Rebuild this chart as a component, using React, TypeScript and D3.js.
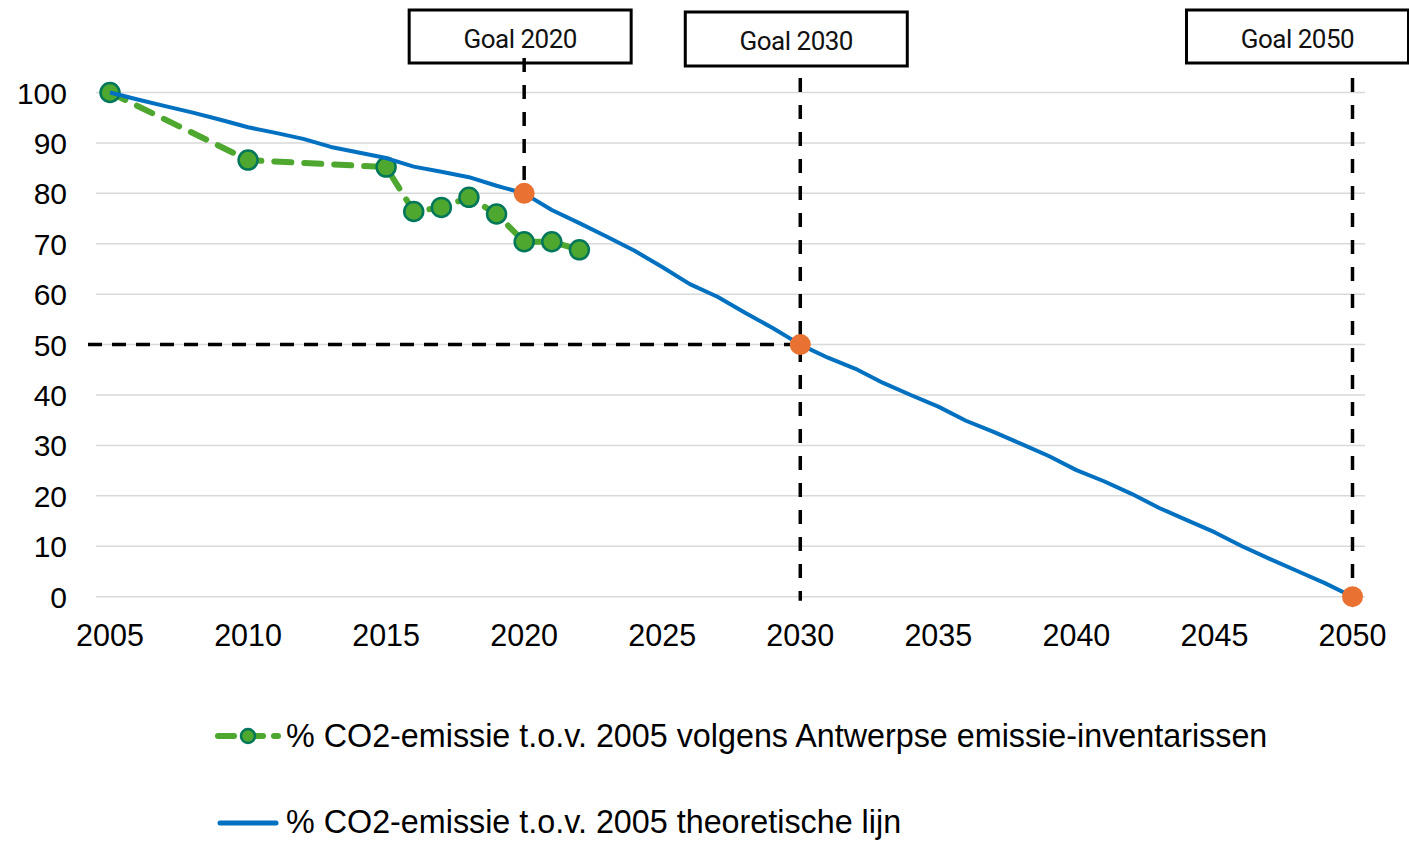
import * as d3 from 'd3';

const W = 1409;
const H = 841;

const TICK_YEARS = [2005, 2010, 2015, 2020, 2025, 2030, 2035, 2040, 2045, 2050];
const TICK_VALUES = [0, 10, 20, 30, 40, 50, 60, 70, 80, 90, 100];

// measured inventory points
const INV_YEARS = [2005, 2010, 2015, 2016, 2017, 2018, 2019, 2020, 2021, 2022];
const INV_VALUES = [100, 86.6, 85.2, 76.4, 77.2, 79.2, 75.9, 70.4, 70.4, 68.8];

// theoretical path 2005..2050
const THEO_YEARS = d3.range(2005, 2051);
const THEO_VALUES = [
  100, 98.6, 97.3, 96, 94.6, 93.1, 92, 90.8, 89.2, 88.1,
  87, 85.3, 84.3, 83.2, 81.5, 80, 76.7, 74.1, 71.4, 68.6,
  65.4, 62, 59.5, 56.3, 53.3, 50, 47.4, 45.2, 42.4, 40,
  37.7, 34.9, 32.7, 30.3, 27.9, 25.1, 22.9, 20.4, 17.6, 15.2,
  12.8, 10, 7.5, 5.1, 2.7, 0,
];

const GOAL_YEARS = [2020, 2030, 2050];
const GOAL_VALUES = [80, 50, 0];
const GOAL_LABELS = ['Goal 2020', 'Goal 2030', 'Goal 2050'];

const LEGEND = [
  '% CO2-emissie t.o.v. 2005 volgens Antwerpse emissie-inventarissen',
  '% CO2-emissie t.o.v. 2005 theoretische lijn',
];

const GREEN = '#4EA72E';
const GREEN_EDGE = '#00775A';
const BLUE = '#0070C0';
const ORANGE = '#E97132';
const ARIAL = '"Liberation Sans", Arial, sans-serif';

export default function App() {
  const x = d3.scaleLinear().domain([2005, 2050]).range([110, 1352.5]);
  const y = d3.scaleLinear().domain([0, 100]).range([596.7, 92.5]);

  const line = d3.line<[number, number]>().x(d => x(d[0])).y(d => y(d[1]));
  const invPts = INV_YEARS.map((yr, i) => [yr, INV_VALUES[i]] as [number, number]);
  const theoPts = THEO_YEARS.map((yr, i) => [yr, THEO_VALUES[i]] as [number, number]);

  // goal label boxes, centred near their year
  const boxes = [
    { cx: x(2020) - 4, top: 10, h: 53 },
    { cx: x(2030) - 4, top: 12, h: 54 },
    { cx: x(2050) - 55, top: 10, h: 53 },
  ];

  return (
    <svg width={W} height={H} style={{ position: 'absolute', left: 0, top: 0, background: '#fff' }}>
      {/* grid */}
      {TICK_VALUES.map(v => (
        <line key={v} x1={96} x2={1365} y1={y(v)} y2={y(v)} stroke="#D9D9D9" strokeWidth={1.5} />
      ))}
      {TICK_VALUES.map(v => (
        <text key={'t' + v} x={67} y={y(v) + 11} textAnchor="end" fontFamily={ARIAL} fontSize={30} fill="#000">
          {v}
        </text>
      ))}
      {TICK_YEARS.map(yr => (
        <text key={yr} x={x(yr)} y={646} textAnchor="middle" fontFamily={ARIAL} fontSize={30.5} fill="#000">
          {yr}
        </text>
      ))}

      {/* inventory series */}
      <path d={line(invPts) ?? ''} fill="none" stroke={GREEN} strokeWidth={6} strokeDasharray="17 13" strokeLinecap="round" />
      {invPts.map(p => (
        <circle key={p[0]} cx={x(p[0])} cy={y(p[1])} r={9.5} fill={GREEN} stroke={GREEN_EDGE} strokeWidth={2.5} />
      ))}

      {/* theoretical series */}
      <path d={line(theoPts) ?? ''} fill="none" stroke={BLUE} strokeWidth={4} strokeLinejoin="round" />

      {/* goal guides */}
      <line x1={x(2020)} x2={x(2020)} y1={58} y2={y(80)} stroke="#000" strokeWidth={3.5} strokeDasharray="14 13" />
      <line x1={x(2030)} x2={x(2030)} y1={78} y2={y(0) + 4} stroke="#000" strokeWidth={3.5} strokeDasharray="14 13" />
      <line x1={x(2050)} x2={x(2050)} y1={78} y2={y(0)} stroke="#000" strokeWidth={3.5} strokeDasharray="14 13" />
      <line x1={88} x2={x(2030)} y1={y(50)} y2={y(50)} stroke="#000" strokeWidth={3.5} strokeDasharray="14 10" />

      {GOAL_YEARS.map((yr, i) => (
        <circle key={'g' + yr} cx={x(yr)} cy={y(GOAL_VALUES[i])} r={10.5} fill={ORANGE} />
      ))}

      {boxes.map((b, i) => (
        <g key={GOAL_LABELS[i]}>
          <rect x={b.cx - 111} y={b.top} width={222} height={b.h} fill="none" stroke="#000" strokeWidth={3} />
          <text x={b.cx} y={b.top + 38} textAnchor="middle" fontFamily="Roboto, sans-serif" fontSize={26} letterSpacing={-0.5} fill="#111">
            {GOAL_LABELS[i]}
          </text>
        </g>
      ))}

      {/* legend */}
      <g>
        <line x1={218} x2={234} y1={736} y2={736} stroke={GREEN} strokeWidth={6} strokeLinecap="round" />
        <line x1={256} x2={263} y1={736} y2={736} stroke={GREEN} strokeWidth={6} strokeLinecap="round" />
        <line x1={274} x2={278} y1={736} y2={736} stroke={GREEN} strokeWidth={6} strokeLinecap="round" />
        <circle cx={248} cy={736} r={7} fill={GREEN} stroke={GREEN_EDGE} strokeWidth={2.5} />
        <text x={286} y={747} fontFamily={ARIAL} fontSize={32.3} fill="#000">{LEGEND[0]}</text>
        <line x1={220} x2={276} y1={823} y2={823} stroke={BLUE} strokeWidth={5} strokeLinecap="round" />
        <text x={286} y={833} fontFamily={ARIAL} fontSize={32.3} fill="#000">{LEGEND[1]}</text>
      </g>
    </svg>
  );
}
